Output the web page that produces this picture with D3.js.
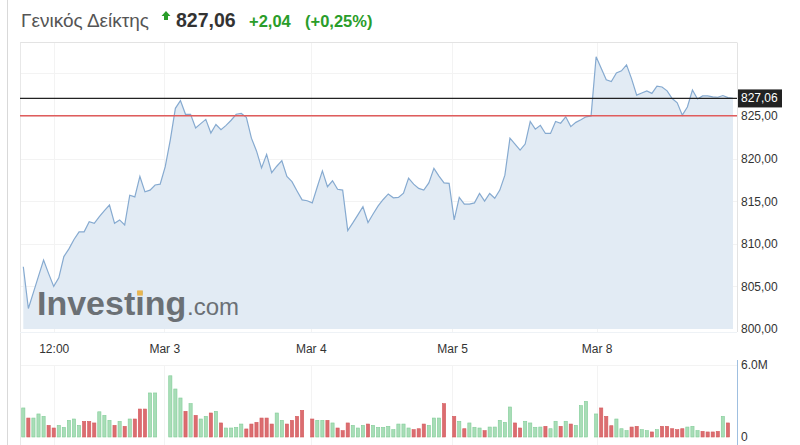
<!DOCTYPE html>
<html>
<head>
<meta charset="utf-8">
<script src="https://cdn.jsdelivr.net/npm/d3@7/dist/d3.min.js"></script>
<style>
  html, body { margin: 0; padding: 0; background: #fff; }
  svg { display: block; font-family: Arial, "Liberation Sans", sans-serif; }
</style>
</head>
<body>
<svg id="chart" width="800" height="445"></svg>
<script>
// ---------------- DATA ----------------
const title = "Γενικός Δείκτης";
const lastPrice = 827.06;
const prevClose = 825.02;
const change = 2.04;
const changePct = 0.25;

const tickLabels = ["12:00", "Mar 3", "Mar 4", "Mar 5", "Mar 8"];
const tickSlots = [6, 27.8, 56.7, 84.6, 113.1];
const dayStartSlots = [0, 29, 57, 85, 113];

const priceTicks = [800, 805, 810, 815, 820, 825];
const priceGrid = [805, 810, 815, 820, 825, 830];
const volumeTicks = [0, 6];

// close price per 15-min slot (slot 0 .. 140)
const prices = [
  807.3, 802.4, 804.3, 806.2, 808.1, 806.5, 805.0, 806.0, 808.5, 809.4,
  810.5, 811.4, 811.4, 812.6, 812.4, 813.2, 813.9, 814.55, 812.4, 812.8,
  812.2, 815.7, 815.5, 817.9, 816.1, 816.3, 816.9, 817.0, 819.05, 822.2,
  825.9, 826.8, 825.2, 825.2, 823.6, 824.1, 824.6, 823.0, 824.0, 823.4,
  823.9, 824.5, 825.2, 825.3, 824.85, 822.4, 820.9, 818.9, 820.5, 818.35,
  819.1, 819.75, 817.9, 817.3, 816.2, 815.15, 815.05, 814.8, 816.7, 818.55,
  816.7, 817.4, 816.4, 816.3, 811.55, 812.45, 813.4, 814.35, 812.5, 813.5,
  814.45, 815.2, 815.85, 815.4, 815.45, 815.95, 817.7, 817.0, 816.5, 816.3,
  817.15, 818.85, 817.95, 817.15, 817.1, 812.8, 815.45, 814.65, 814.65, 814.8,
  815.9, 815.0, 815.9, 815.35, 816.3, 818.05, 822.4, 821.7, 821.0, 821.7,
  824.35, 823.45, 823.9, 822.95, 822.95, 824.35, 824.15, 824.9, 823.75, 824.25,
  824.55, 824.9, 825.0, 831.95, 830.6, 829.25, 829.05, 830.05, 830.3, 831.0,
  829.35, 827.45, 827.7, 827.95, 827.65, 828.5, 828.4, 827.95, 827.05, 826.55,
  825.1, 826.05, 828.05, 827.0, 827.35, 827.35, 827.25, 827.2, 827.4, 827.15,
  827.06
];

// volume (millions) per bar, 27 bars per session
const volMar2 = [2.42,1.58,1.58,1.92,1.72,0.97,0.75,0.97,0.8,1.39,1.5,0.97,1.3,1.3,1.17,2.1,1.8,1.39,0.97,1.3,0.89,1.5,1.5,2.33,2.33,3.67,3.67];
const volMar3 = [5.1,4.0,3.25,2.14,2.78,1.8,1.5,1.72,2.0,2.14,1.17,0.75,0.75,0.8,1.08,0.67,1.08,1.22,1.58,1.58,1.08,2.0,1.39,1.08,1.39,1.72,2.22];
const volMar4 = [1.5,1.39,1.39,1.39,1.17,0.75,0.53,1.17,0.97,0.75,0.97,1.08,0.97,0.8,0.8,0.89,0.61,1.08,1.08,0.75,0.61,0.69,1.08,0.97,1.58,1.58,2.78];
const volMar5 = [1.72,1.31,0.69,1.17,0.81,0.75,0.53,0.83,0.83,1.39,1.22,2.5,1.17,0.75,1.31,1.17,0.81,0.83,0.89,0.69,1.31,0.89,1.31,1.08,0.97,2.61,2.97];
const volMar8 = [1.92,2.42,1.72,0.94,1.5,0.69,0.53,0.83,0.89,0.61,0.53,0.42,0.61,0.89,0.89,0.69,0.61,0.69,0.83,0.89,0.53,0.47,0.42,0.42,0.47,1.72,1.17];
// g = up bar, r = down bar
const dirMar2 = "grgggrrgggggrrrgggrgrgrrrgg";
const dirMar3 = "gggrgrggrgrggggrrrrrrggrrrr";
const dirMar4 = "rggrgrrrgggrggggggggrrrgggr";
const dirMar5 = "rgrgggrgggggrrggggrggrgrggg";
const dirMar8 = "grrrgggrrggrgrrrrrgggrrrrgr";

// ---------------- BUILD ----------------
const volumesByDay = [volMar2, volMar3, volMar4, volMar5, volMar8];
const dirsByDay = [dirMar2, dirMar3, dirMar4, dirMar5, dirMar8];
const volumeBars = [];
volumesByDay.forEach((arr, d) => {
  arr.forEach((v, i) => volumeBars.push({slot: dayStartSlots[d] + i, v, up: dirsByDay[d][i] === "g"}));
});
const priceData = prices.map((p, i) => ({slot: i, p}));

const svg = d3.select("#chart");
const W = 800, H = 445;
const plotLeft = 20, plotRight = 737, plotTop = 42.5, priceBottom = 332;

const x = d3.scaleLinear().domain([0, 140]).range([23.3, 733]);
const y = d3.scaleLinear().domain([800, 833.6]).range([329, 42.7]);
const yv = d3.scaleLinear().domain([0, 6]).range([437, 365]);

const fmt = v => d3.format(".2f")(v).replace(".", ",");

// outer left rule
svg.append("line").attr("x1", 7.5).attr("x2", 7.5).attr("y1", 0).attr("y2", H)
  .attr("stroke", "#d9d9d9");

// ---- Title ----
const tg = svg.append("g");
tg.append("text").attr("x", 21).attr("y", 27)
  .attr("font-size", 19).attr("fill", "#555").text(title);
// up arrow
tg.append("path").attr("d", "M166,11 L170.5,16 L168,16 L168,20 L164,20 L164,16 L161.5,16 Z")
  .attr("fill", "#2a9d2a");
tg.append("text").attr("x", 176).attr("y", 27).attr("font-size", 19.5)
  .attr("font-weight", "bold").attr("fill", "#333").text(fmt(lastPrice));
tg.append("text").attr("x", 249).attr("y", 27).attr("font-size", 16.5)
  .attr("font-weight", "bold").attr("fill", "#2a9d2a").text("+" + fmt(change));
tg.append("text").attr("x", 305).attr("y", 27).attr("font-size", 16.5)
  .attr("font-weight", "bold").attr("fill", "#2a9d2a").text("(+" + fmt(changePct) + "%)");

// ---- Grid ----
const grid = svg.append("g");
grid.selectAll("line.hg").data(priceGrid).join("line")
  .attr("x1", plotLeft).attr("x2", plotRight)
  .attr("y1", d => Math.round(y(d)) + 0.5).attr("y2", d => Math.round(y(d)) + 0.5)
  .attr("stroke", "#f3f3f3");
grid.selectAll("line.vg").data(tickSlots).join("line")
  .attr("x1", d => Math.round(x(d)) + 0.5).attr("x2", d => Math.round(x(d)) + 0.5)
  .attr("y1", plotTop).attr("y2", priceBottom)
  .attr("stroke", "#f3f3f3");
grid.selectAll("line.vg2").data(tickSlots).join("line")
  .attr("x1", d => Math.round(x(d)) + 0.5).attr("x2", d => Math.round(x(d)) + 0.5)
  .attr("y1", 365).attr("y2", H)
  .attr("stroke", "#f3f3f3");
grid.append("line").attr("x1", plotLeft).attr("x2", plotRight).attr("y1", 365.5).attr("y2", 365.5)
  .attr("stroke", "#f3f3f3");

// frame
svg.append("line").attr("x1", plotLeft).attr("x2", plotRight).attr("y1", plotTop).attr("y2", plotTop).attr("stroke", "#e3e3e3");
svg.append("line").attr("x1", plotLeft + 0.5).attr("x2", plotLeft + 0.5).attr("y1", plotTop).attr("y2", H).attr("stroke", "#e8e8e8");
svg.append("line").attr("x1", plotLeft).attr("x2", plotRight).attr("y1", priceBottom + 0.5).attr("y2", priceBottom + 0.5).attr("stroke", "#eef2f6");

// ---- Area ----
const area = d3.area().x(d => x(d.slot)).y0(y(800)).y1(d => y(d.p));
const line = d3.line().x(d => x(d.slot)).y(d => y(d.p));
svg.append("path").datum(priceData).attr("d", area).attr("fill", "#e2ebf4");

// ---- Watermark ----
const wm = svg.append("g").attr("fill", "#6b7075");
const wmMain = wm.append("text").attr("x", 37).attr("y", 315).attr("font-size", 34).attr("font-weight", "bold")
  .text("Investing");
wm.append("text").attr("x", 187).attr("y", 315).attr("font-size", 24).text(".com");
{
  const node = wmMain.node();
  const ext = node.getExtentOfChar(6); // the "i" after "t"
  const cx = ext.x + ext.width / 2;
  svg.append("rect").attr("x", cx - 2.8).attr("y", 315 - 24.6).attr("width", 5.6).attr("height", 5.2).attr("fill", "#e9b54e");
}

// ---- Line ----
svg.append("path").datum(priceData).attr("d", line).attr("fill", "none")
  .attr("stroke", "#86aad0").attr("stroke-width", 1.2);

// ---- reference lines ----
svg.append("line").attr("x1", plotLeft).attr("x2", plotRight)
  .attr("y1", y(prevClose)).attr("y2", y(prevClose)).attr("stroke", "#e05c5c").attr("stroke-width", 1.5);
svg.append("line").attr("x1", plotLeft).attr("x2", plotRight)
  .attr("y1", y(lastPrice)).attr("y2", y(lastPrice)).attr("stroke", "#222").attr("stroke-width", 1.2);

// ---- Right price axis ----
svg.append("line").attr("x1", plotRight + 0.5).attr("x2", plotRight + 0.5).attr("y1", plotTop).attr("y2", priceBottom).attr("stroke", "#e3e3e3");
const yAxis = d3.axisRight(y).tickValues(priceTicks).tickSize(0).tickPadding(4).tickFormat(fmt);
const ya = svg.append("g").attr("transform", `translate(${plotRight},0)`).call(yAxis);
ya.select(".domain").remove();
ya.selectAll("text").attr("font-size", 12).attr("fill", "#333").attr("font-family", "Arial, 'Liberation Sans', sans-serif");

// last price tag
const tagY = y(lastPrice);
svg.append("rect").attr("x", plotRight + 1).attr("y", tagY - 9).attr("width", 44).attr("height", 18).attr("fill", "#222");
svg.append("text").attr("x", plotRight + 4).attr("y", tagY + 4).attr("font-size", 12).attr("fill", "#fff").text(fmt(lastPrice));

// ---- x axis labels ----
const xAxis = d3.axisBottom(x).tickValues(tickSlots).tickSize(0).tickPadding(0)
  .tickFormat((d, i) => tickLabels[i]);
const xa = svg.append("g").attr("transform", `translate(0,344)`).call(xAxis);
xa.select(".domain").remove();
xa.selectAll("text").attr("font-size", 12).attr("fill", "#333").attr("font-family", "Arial, 'Liberation Sans', sans-serif");

// ---- Volume ----
svg.append("line").attr("x1", plotRight + 0.5).attr("x2", plotRight + 0.5).attr("y1", 360).attr("y2", H).attr("stroke", "#9fbfe0");
const bw = 3.2;
svg.append("g").selectAll("rect").data(volumeBars).join("rect")
  .attr("x", d => x(d.slot) - bw / 2)
  .attr("y", d => yv(d.v))
  .attr("width", bw)
  .attr("height", d => yv(0) - yv(d.v))
  .attr("fill", d => d.up ? "#a8ddb7" : "#db6d70")
  .attr("stroke", d => d.up ? "#82cd98" : "#d45a5d")
  .attr("stroke-width", 0.6);

const vAxis = d3.axisRight(yv).tickValues(volumeTicks).tickSize(0).tickPadding(4)
  .tickFormat(d => d === 0 ? "0" : d3.format(".1f")(d) + "M");
const va = svg.append("g").attr("transform", `translate(${plotRight},0)`).call(vAxis);
va.select(".domain").remove();
va.selectAll("text").attr("font-size", 12).attr("fill", "#333").attr("font-family", "Arial, 'Liberation Sans', sans-serif");
</script>
</body>
</html>
